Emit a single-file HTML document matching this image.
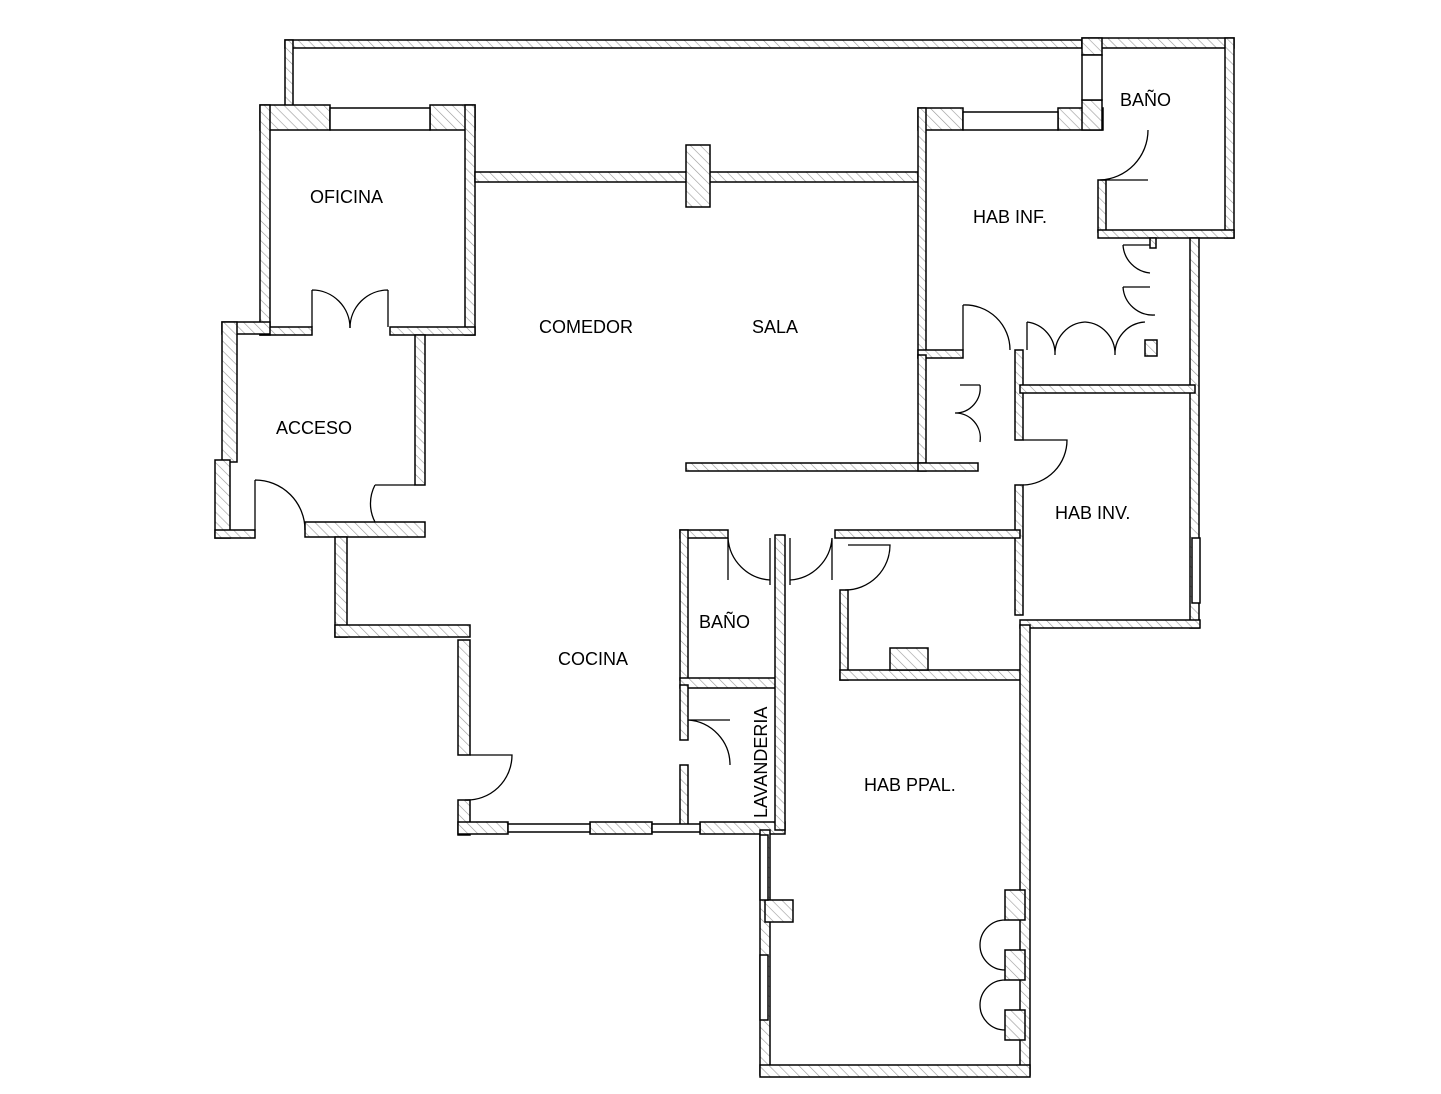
<!DOCTYPE html>
<html><head><meta charset="utf-8"><style>
html,body{margin:0;padding:0;background:#fff}
svg{display:block}
text{font-family:"Liberation Sans",sans-serif;font-size:18px;fill:#000}
</style></head><body>
<svg width="1441" height="1094" viewBox="0 0 1441 1094" xmlns="http://www.w3.org/2000/svg">
<defs>
<pattern id="h" width="7" height="7" patternUnits="userSpaceOnUse" patternTransform="rotate(-45)">
<rect width="7" height="7" fill="#fff"/><line x1="0" y1="0" x2="0" y2="7" stroke="#999" stroke-width="1.2"/>
</pattern>
</defs>
<g fill="url(#h)" stroke="#000" stroke-width="1.5">
<!-- balcony -->
<rect x="285" y="40" width="797" height="8"/>
<rect x="285" y="40" width="8" height="67"/>
<!-- oficina -->
<rect x="260" y="105" width="70" height="25"/>
<rect x="430" y="105" width="45" height="25"/>
<rect x="260" y="105" width="10" height="230"/>
<rect x="465" y="105" width="10" height="230"/>
<rect x="260" y="327" width="52" height="8"/>
<rect x="390" y="327" width="85" height="8"/>
<!-- top wall comedor/sala -->
<rect x="475" y="172" width="443" height="10"/>
<rect x="686" y="145" width="24" height="62"/>
<!-- hab inf -->
<rect x="918" y="108" width="45" height="22"/>
<rect x="1058" y="108" width="45" height="22"/>
<rect x="918" y="108" width="8" height="250"/>
<rect x="1082" y="38" width="152" height="10"/>
<rect x="1225" y="38" width="9" height="200"/>
<rect x="1082" y="38" width="20" height="17"/>
<rect x="1082" y="100" width="20" height="30"/>
<rect x="1098" y="180" width="8" height="52"/>
<rect x="1098" y="230" width="136" height="8"/>
<rect x="1190" y="238" width="9" height="390"/>
<rect x="918" y="350" width="45" height="8"/>
<rect x="918" y="355" width="8" height="115"/>
<rect x="686" y="463" width="240" height="8"/>
<rect x="918" y="463" width="60" height="8"/>
<rect x="1015" y="350" width="8" height="90"/>
<rect x="1020" y="385" width="175" height="8"/>
<rect x="1015" y="485" width="8" height="130"/>
<rect x="1020" y="620" width="180" height="8"/>
<rect x="1150" y="238" width="6" height="10"/>
<rect x="1145" y="340" width="12" height="16"/>
<!-- acceso -->
<rect x="222" y="322" width="48" height="12"/>
<rect x="222" y="322" width="15" height="140"/>
<rect x="215" y="460" width="15" height="78"/>
<rect x="415" y="335" width="10" height="150"/>
<rect x="215" y="530" width="40" height="8"/>
<rect x="305" y="522" width="120" height="15"/>
<!-- cocina -->
<rect x="335" y="537" width="12" height="100"/>
<rect x="335" y="625" width="135" height="12"/>
<rect x="458" y="640" width="12" height="115"/>
<rect x="458" y="800" width="12" height="35"/>
<rect x="458" y="822" width="50" height="12"/>
<rect x="590" y="822" width="62" height="12"/>
<rect x="700" y="822" width="85" height="12"/>
<!-- baño/lavanderia -->
<rect x="680" y="530" width="48" height="8"/>
<rect x="680" y="530" width="8" height="150"/>
<rect x="680" y="678" width="100" height="10"/>
<rect x="680" y="685" width="8" height="55"/>
<rect x="680" y="765" width="8" height="65"/>
<rect x="775" y="535" width="10" height="295"/>
<!-- hab ppal -->
<rect x="835" y="530" width="185" height="8"/>
<rect x="840" y="590" width="8" height="90"/>
<rect x="840" y="670" width="185" height="10"/>
<rect x="1020" y="625" width="10" height="450"/>
<rect x="760" y="830" width="10" height="245"/>
<rect x="760" y="1065" width="270" height="12"/>
<rect x="890" y="648" width="38" height="22"/>
<rect x="765" y="900" width="28" height="22"/>
<rect x="1005" y="890" width="20" height="30"/>
<rect x="1005" y="950" width="20" height="30"/>
<rect x="1005" y="1010" width="20" height="30"/>
</g>
<!-- windows -->
<g fill="#fff" stroke="#000" stroke-width="1.5">
<rect x="330" y="108" width="100" height="22"/>
<rect x="963" y="112" width="95" height="18"/>
<rect x="1082" y="55" width="20" height="45"/>
<rect x="508" y="824" width="82" height="8"/>
<rect x="652" y="824" width="48" height="8"/>
<rect x="760" y="835" width="8" height="65"/>
<rect x="760" y="955" width="8" height="65"/>
<rect x="1192" y="538" width="8" height="65"/>
</g>
<!-- doors -->
<g fill="none" stroke="#000" stroke-width="1.3">
<path d="M312 290 L312 327 M312 290 A38 38 0 0 1 350 328"/>
<path d="M388 290 L388 327 M388 290 A38 38 0 0 0 350 328"/>
<path d="M255 480 L255 530 M255 480 A50 50 0 0 1 305 530"/>
<path d="M415 485 L375 485 M375 485 A40 40 0 0 0 375 522"/>
<path d="M470 755 L512 755 A45 45 0 0 1 465 800"/>
<path d="M728 538 L728 580 M728 538 A45 45 0 0 0 770 580"/>
<path d="M832 538 L832 580 M832 538 A45 45 0 0 1 790 580"/>
<path d="M770 538 L770 585 M790 538 L790 585"/>
<path d="M848 545 L890 545 A45 45 0 0 1 845 590"/>
<path d="M688 720 L730 720 M688 720 A45 45 0 0 1 730 765"/>
<path d="M1100 180 L1148 180 M1148 130 A50 50 0 0 1 1100 180"/>
<path d="M963 305 L963 350 M963 305 A45 45 0 0 1 1010 350"/>
<path d="M1027 322 L1027 350 M1027 322 A32 32 0 0 1 1055 355 M1085 322 A32 32 0 0 0 1055 355"/>
<path d="M1085 322 A32 32 0 0 1 1115 355 M1145 322 A32 32 0 0 0 1115 355"/>
<path d="M1123 245 L1150 245 M1123 245 A30 30 0 0 0 1150 273 M1123 287 L1150 287 M1123 287 A30 30 0 0 0 1155 315"/>
<path d="M980 385 L960 385 M980 385 A25 25 0 0 1 955 413 M980 442 A25 25 0 0 0 955 413"/>
<path d="M1023 440 L1067 440 A45 45 0 0 1 1023 485"/>
<path d="M1005 920 A25 25 0 0 0 980 945 M1005 970 A25 25 0 0 1 980 945"/>
<path d="M1005 980 A25 25 0 0 0 980 1005 M1005 1030 A25 25 0 0 1 980 1005"/>
</g>
<text x="310" y="203">OFICINA</text>
<text x="539" y="333">COMEDOR</text>
<text x="752" y="333">SALA</text>
<text x="973" y="223">HAB INF.</text>
<text x="1120" y="106">BAÑO</text>
<text x="276" y="434">ACCESO</text>
<text x="1055" y="519">HAB INV.</text>
<text x="699" y="628">BAÑO</text>
<text x="558" y="665">COCINA</text>
<text x="864" y="791">HAB PPAL.</text>
<text transform="translate(767,818) rotate(-90)">LAVANDERIA</text>
</svg>
</body></html>
